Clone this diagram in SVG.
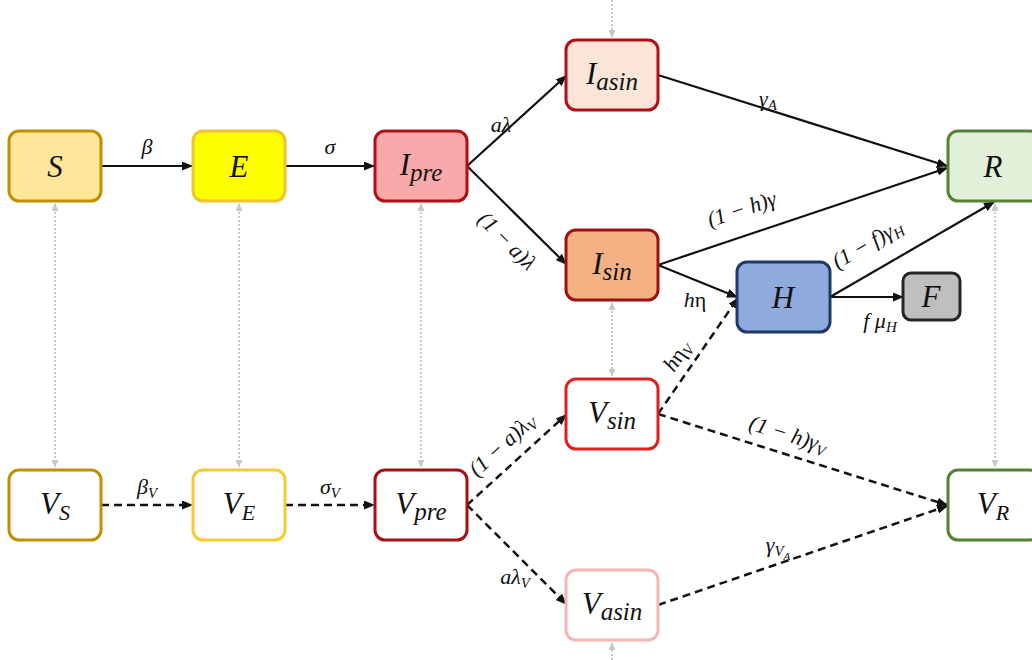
<svg xmlns="http://www.w3.org/2000/svg" width="1032" height="660" viewBox="0 0 1032 660">
<defs>
<marker id="ah" markerUnits="userSpaceOnUse" markerWidth="11" markerHeight="9" refX="10" refY="4.5" orient="auto">
<path d="M0,0 L11,4.5 L0,9 z" fill="#111"/>
</marker>
<marker id="gh" markerUnits="userSpaceOnUse" markerWidth="8" markerHeight="7" refX="7" refY="3.5" orient="auto-start-reverse">
<path d="M0,0 L8,3.5 L0,7 z" fill="#c8c8c8"/>
</marker>
</defs>
<style>
.box{stroke-width:3}
.nl{font-family:"Liberation Serif","DejaVu Serif",serif;font-style:italic;font-size:31px;fill:#111;text-anchor:middle}
.el{font-family:"Liberation Serif","DejaVu Serif",serif;font-style:italic;font-size:22px;fill:#111;text-anchor:middle}
.solid{stroke:#111;stroke-width:2.2;fill:none;marker-end:url(#ah)}
.dash{stroke:#111;stroke-width:2.5;fill:none;stroke-dasharray:8 5;marker-end:url(#ah)}
.dot{stroke:#c8c8c8;stroke-width:2;fill:none;stroke-dasharray:2 2}
</style>
<rect width="1032" height="660" fill="#fff"/>

<g id="connectors">
<path class="dot" d="M55,204 L55,467" marker-start="url(#gh)" marker-end="url(#gh)"/>
<path class="dot" d="M239,204 L239,467" marker-start="url(#gh)" marker-end="url(#gh)"/>
<path class="dot" d="M421,204 L421,467" marker-start="url(#gh)" marker-end="url(#gh)"/>
<path class="dot" d="M612,303 L612,376" marker-start="url(#gh)" marker-end="url(#gh)"/>
<path class="dot" d="M995,204 L995,467" marker-start="url(#gh)" marker-end="url(#gh)"/>
<path class="dot" d="M612,0 L612,37" marker-end="url(#gh)"/>
<path class="dot" d="M612,660 L612,643" marker-end="url(#gh)"/>

<path class="solid" d="M101,166 L192,166"/>
<path class="solid" d="M285,166 L374,166"/>
<path class="solid" d="M467,166 L566,76"/>
<path class="solid" d="M467,166 L566,264"/>
<path class="solid" d="M658,75 L947,166"/>
<path class="solid" d="M658,265 L947,168"/>
<path class="solid" d="M658,265 L737,297"/>
<path class="solid" d="M830,297 L994,202"/>
<path class="solid" d="M830,297 L903,297"/>

<path class="dash" d="M101,505 L192,505"/>
<path class="dash" d="M285,505 L374,505"/>
<path class="dash" d="M467,505 L566,415"/>
<path class="dash" d="M467,505 L566,604"/>
<path class="dash" d="M658,414 L738,298"/>
<path class="dash" d="M658,414 L947,505"/>
<path class="dash" d="M658,605 L947,506"/>

<text class="el" x="147" y="154">β</text>
<text class="el" x="330" y="154">σ</text>
<text class="el" x="501" y="132">aλ</text>
<text class="el" transform="translate(502,246) rotate(45)">(1 − a)λ</text>
<text class="el" x="768" y="106">γ<tspan font-size="15" dy="4">A</tspan></text>
<text class="el" transform="translate(744,216) rotate(-18.5)">(1 − h)γ</text>
<text class="el" x="695" y="307">h<tspan font-style="normal">η</tspan></text>
<text class="el" transform="translate(871,250) rotate(-30)">(1 − f)γ<tspan font-size="15" dy="4">H</tspan></text>
<text class="el" x="880" y="328">f μ<tspan font-size="15" dy="4">H</tspan></text>

<text class="el" x="147" y="494">β<tspan font-size="15" dy="4">V</tspan></text>
<text class="el" x="330" y="494">σ<tspan font-size="15" dy="4">V</tspan></text>
<text class="el" transform="translate(507,450) rotate(-42.6)">(1 − a)λ<tspan font-size="15" dy="4">V</tspan></text>
<text class="el" x="515" y="584">aλ<tspan font-size="15" dy="4">V</tspan></text>
<text class="el" transform="translate(683,360) rotate(-55.7)">h<tspan font-style="normal">η</tspan><tspan font-size="15" dy="4">V</tspan></text>
<text class="el" transform="translate(786,441) rotate(17.4)">(1 − h)γ<tspan font-size="15" dy="4">V</tspan></text>
<text class="el" x="778" y="552">γ<tspan font-size="15" dy="4">V</tspan><tspan font-size="11" dy="4">A</tspan></text>
</g>

<g id="S"><rect class="box" x="9" y="131" width="92" height="70" rx="10" fill="#FFE699" stroke="#BF9000"/><text class="nl" x="55" y="177">S</text></g>
<g id="E"><rect class="box" x="193" y="131" width="92" height="70" rx="10" fill="#FFFF00" stroke="#F1C232"/><text class="nl" x="239" y="177">E</text></g>
<g id="Ipre"><rect class="box" x="375" y="131" width="92" height="70" rx="10" fill="#F9A9A9" stroke="#B01015"/><text class="nl" x="421" y="175">I<tspan font-size="25" dy="6">pre</tspan></text></g>
<g id="Iasin"><rect class="box" x="566" y="40" width="92" height="70" rx="10" fill="#FBE5D6" stroke="#B01015"/><text class="nl" x="612" y="84">I<tspan font-size="25" dy="6">asin</tspan></text></g>
<g id="Isin"><rect class="box" x="566" y="230" width="92" height="70" rx="10" fill="#F4B183" stroke="#A01010"/><text class="nl" x="612" y="274">I<tspan font-size="25" dy="6">sin</tspan></text></g>
<g id="R"><rect class="box" x="948" y="131" width="92" height="70" rx="10" fill="#E2F0D9" stroke="#548235"/><text class="nl" x="993" y="177">R</text></g>
<g id="H"><rect class="box" x="737" y="262" width="93" height="70" rx="10" fill="#8FAADC" stroke="#203864"/><text class="nl" x="783" y="308">H</text></g>
<g id="F"><rect class="box" x="903" y="273" width="57" height="47" rx="8" fill="#BFBFBF" stroke="#262626"/><text class="nl" x="931" y="307">F</text></g>
<g id="Vsin"><rect class="box" x="566" y="379" width="92" height="70" rx="10" fill="#fff" stroke="#E02020"/><text class="nl" x="612" y="423">V<tspan font-size="25" dy="6">sin</tspan></text></g>
<g id="VS"><rect class="box" x="9" y="470" width="92" height="70" rx="10" fill="#fff" stroke="#BF9000"/><text class="nl" x="55" y="514">V<tspan font-size="22" dy="6">S</tspan></text></g>
<g id="VE"><rect class="box" x="193" y="470" width="92" height="70" rx="10" fill="#fff" stroke="#F4CC2E"/><text class="nl" x="239" y="514">V<tspan font-size="22" dy="6">E</tspan></text></g>
<g id="Vpre"><rect class="box" x="375" y="470" width="92" height="70" rx="10" fill="#fff" stroke="#A50F15"/><text class="nl" x="421" y="514">V<tspan font-size="25" dy="6">pre</tspan></text></g>
<g id="Vasin"><rect class="box" x="566" y="570" width="92" height="70" rx="10" fill="#fff" stroke="#F4B6B6"/><text class="nl" x="612" y="614">V<tspan font-size="25" dy="6">asin</tspan></text></g>
<g id="VR"><rect class="box" x="948" y="470" width="92" height="70" rx="10" fill="#fff" stroke="#548235"/><text class="nl" x="993" y="514">V<tspan font-size="22" dy="6">R</tspan></text></g>
</svg>
